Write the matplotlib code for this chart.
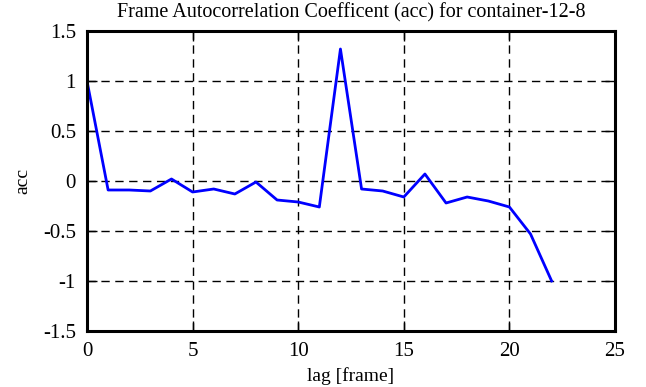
import numpy as np
import matplotlib
matplotlib.use("Agg")
import matplotlib.pyplot as plt

#data
lag = list(range(23))
acc = [1.0, -0.09, -0.09, -0.10, 0.02, -0.11, -0.08, -0.13, -0.01, -0.19, -0.21, -0.26,
       1.32, -0.08, -0.10, -0.16, 0.07, -0.22, -0.16, -0.20, -0.26, -0.53, -1.0]

plt.rcParams['font.family'] = ['Liberation Serif', 'DejaVu Serif']
plt.rcParams['font.size'] = 15

fig = plt.figure(figsize=(6.46, 3.87), dpi=100)
ax = fig.add_axes([87/646, 1-331/387, (615-87)/646, 300/387])
ax.plot(lag, acc, color='#0000ff', linewidth=2)
ax.set_xlim(0, 25)
ax.set_ylim(-1.5, 1.5)
ax.set_xticks([0, 5, 10, 15, 20, 25])
ax.set_yticks([-1.5, -1, -0.5, 0, 0.5, 1, 1.5])
ax.set_yticklabels(['-1.5', '-1', '-0.5', '0', '0.5', '1', '1.5'])
ax.grid(True, color='black', linestyle=(0, (6, 4)), linewidth=1)
ax.tick_params(direction='in', top=True, right=True, length=7, width=1, pad=8, labelsize=15)
for s in ax.spines.values():
    s.set_linewidth(2.2)
ax.set_xlabel('lag [frame]', fontsize=14, labelpad=4)
ax.set_ylabel('acc', fontsize=14, labelpad=8)
ax.set_title('Frame Autocorrelation Coefficent (acc) for container-12-8', fontsize=14.5, pad=10)
fig.savefig('out.png', dpi=100)
